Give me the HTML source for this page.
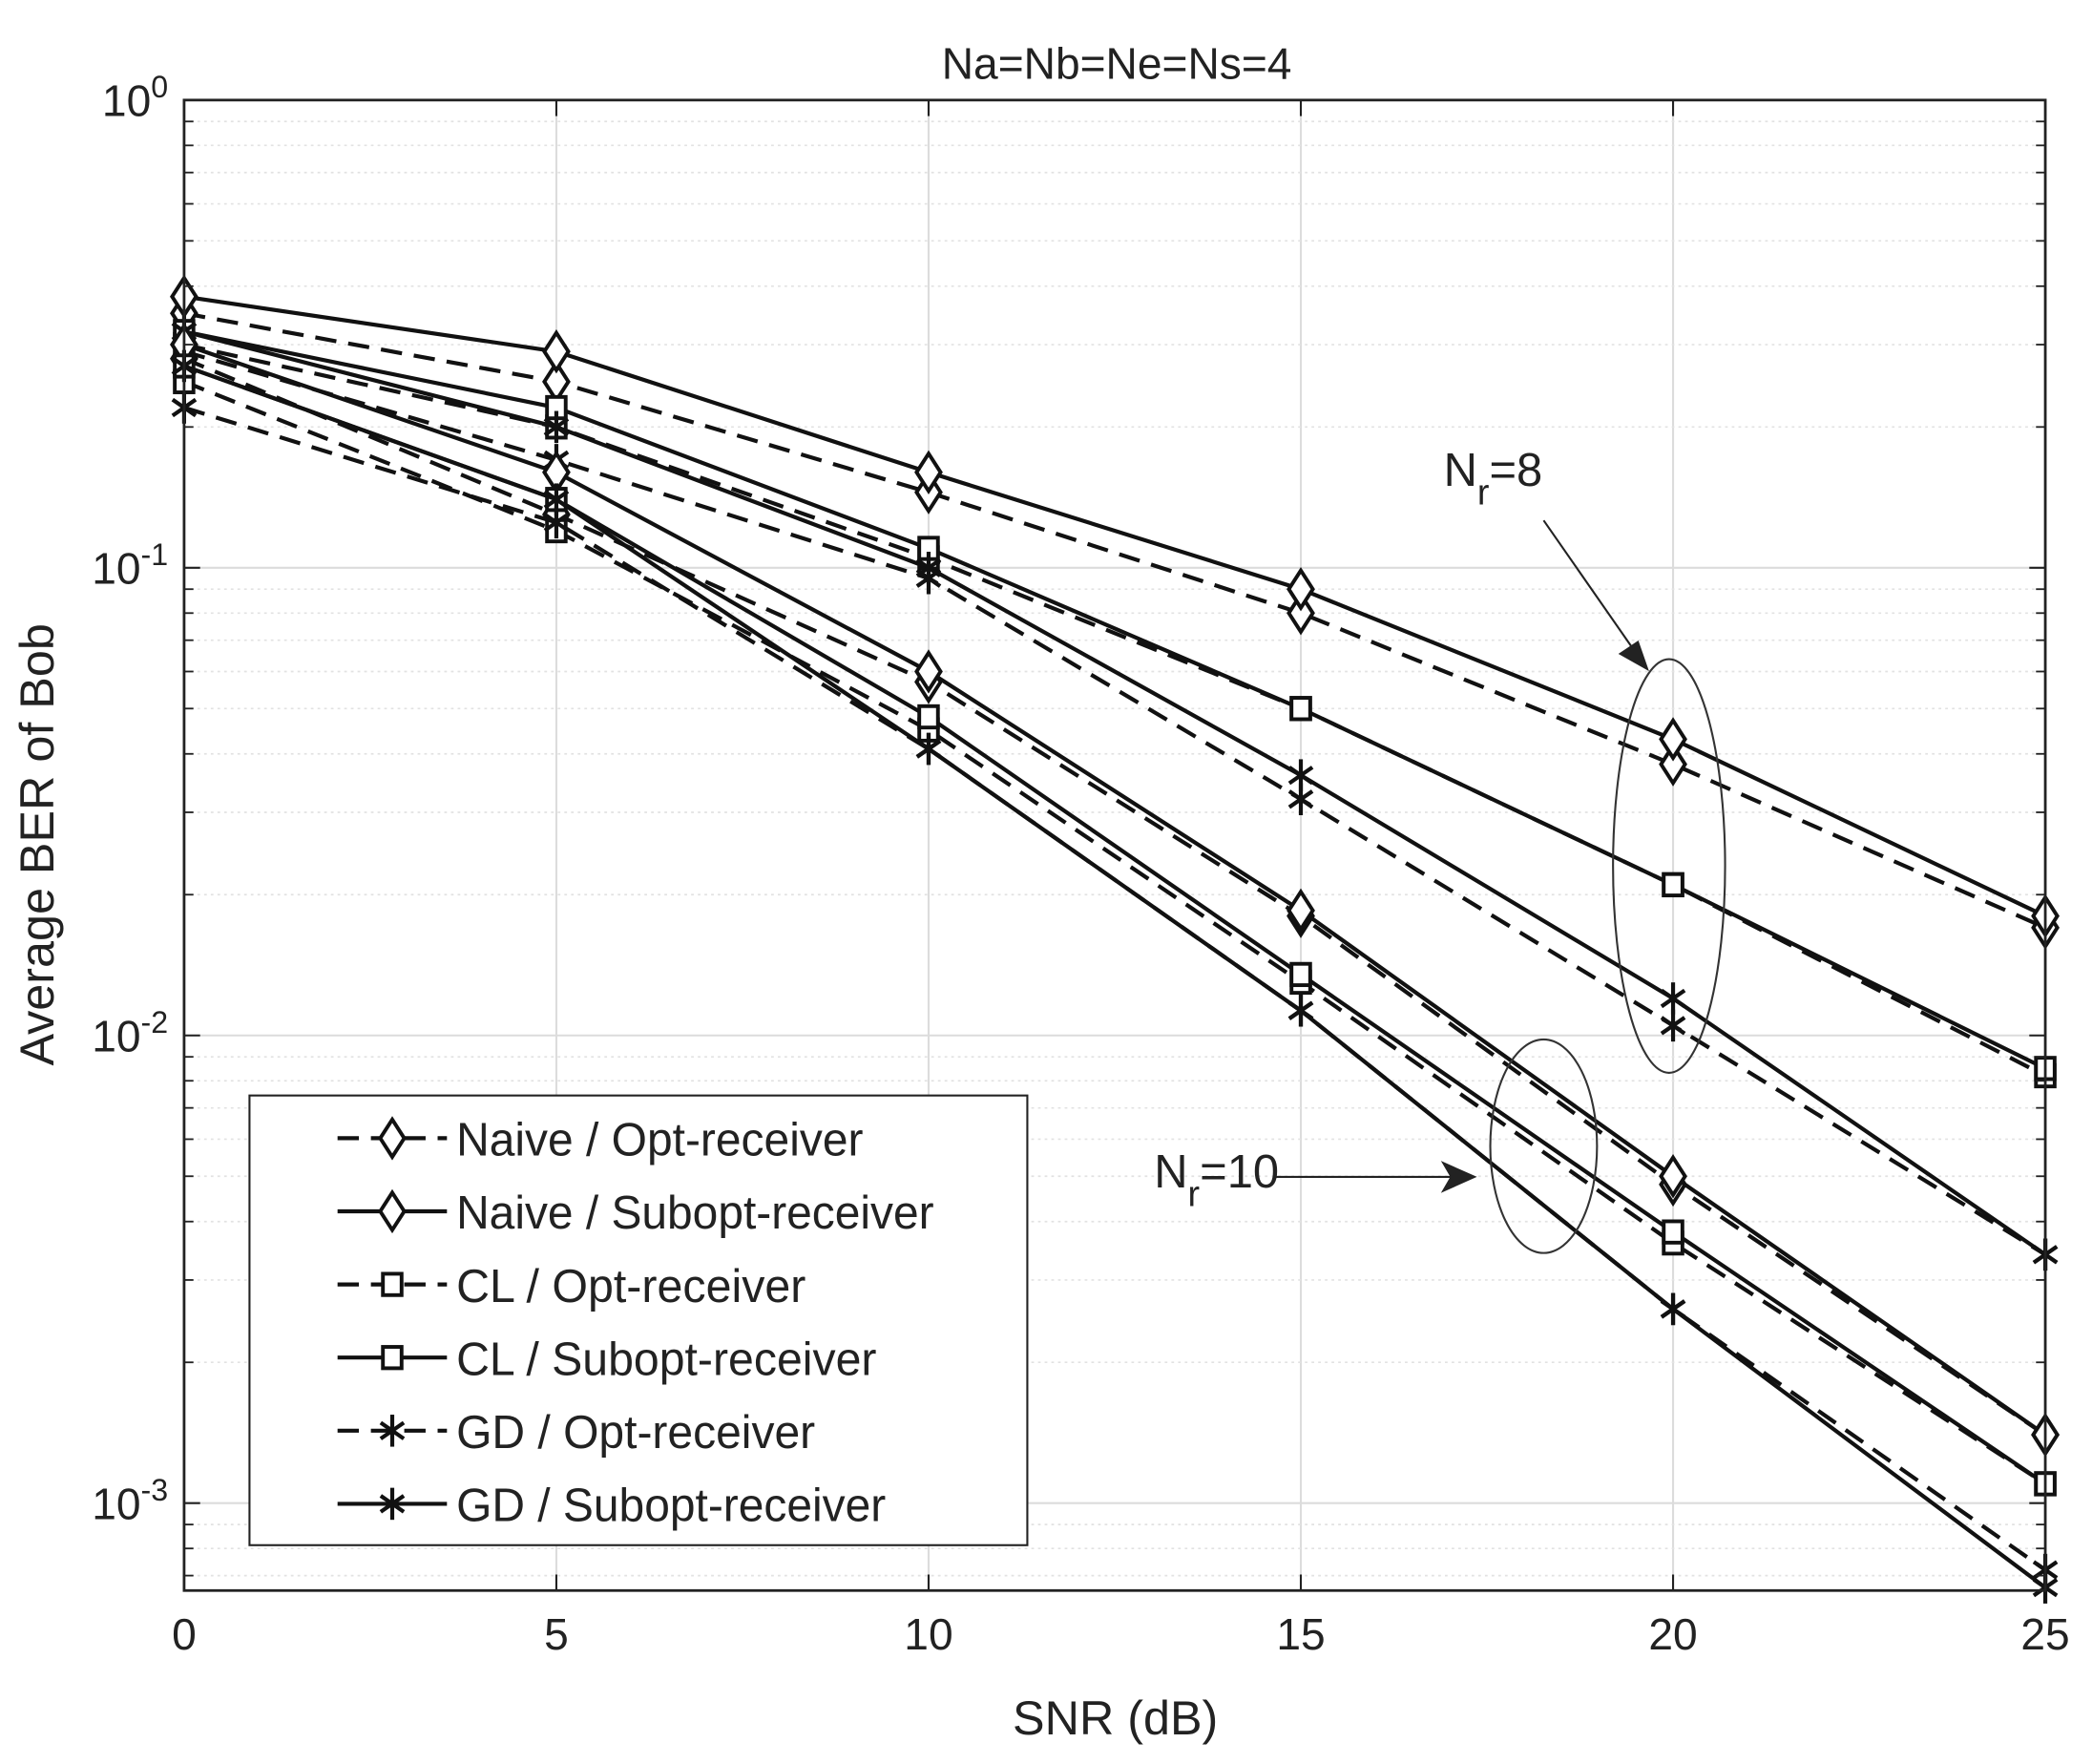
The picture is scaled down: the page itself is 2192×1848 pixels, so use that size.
<!DOCTYPE html>
<html><head><meta charset="utf-8"><style>
html,body{margin:0;padding:0;background:#fff;}
svg{display:block;font-family:"Liberation Sans",sans-serif;}
</style></head><body>
<svg id="chart" width="2192" height="1848" viewBox="0 0 1568 1322" preserveAspectRatio="none" xmlns="http://www.w3.org/2000/svg">
<rect x="0" y="0" width="1568" height="1322" fill="#fff"/>
<g id="grid"></g>
<g id="series"></g>
<g id="axes"></g>
<text x="837" y="59" font-size="33" text-anchor="middle" fill="#222">Na=Nb=Ne=Ns=4</text>
<text x="836" y="1300" font-size="36" text-anchor="middle" fill="#222">SNR (dB)</text>
<text transform="translate(40,633) rotate(-90)" font-size="36" text-anchor="middle" fill="#222">Average BER of Bob</text>
<g>
<ellipse cx="1251" cy="649" rx="42" ry="155" fill="none" stroke="#333" stroke-width="1.5"/>
<line x1="1157" y1="390" x2="1228" y2="492" stroke="#222" stroke-width="1.5"/>
<polygon points="1236,503 1213,490 1228,480" fill="#222"/>
<text x="1082" y="364" font-size="35" fill="#222">N<tspan dy="14" font-size="27">r</tspan><tspan dy="-14">=8</tspan></text>
</g>
<g>
<ellipse cx="1157" cy="859" rx="40" ry="80" fill="none" stroke="#333" stroke-width="1.5"/>
<line x1="955" y1="882" x2="1095" y2="882" stroke="#222" stroke-width="1.5"/>
<polygon points="1107,882 1080,870 1087,882 1080,894" fill="#222"/>
<text x="865" y="890" font-size="35" fill="#222">N<tspan dy="14" font-size="27">r</tspan><tspan dy="-14">=10</tspan></text>
</g>
<g id="legend"></g>
</svg>
<script>
const NS='http://www.w3.org/2000/svg';
const snr=[0,5,10,15,20,25];
const xTicks=[0,5,10,15,20,25];
const yDecades=[0,-1,-2,-3];
const naiveOpt8=[0.35,0.25,0.145,0.08,0.038,0.017];
const naiveSub8=[0.38,0.29,0.16,0.09,0.043,0.018];
const clOpt8=[0.30,0.20,0.105,0.05,0.021,0.0082];
const clSub8=[0.32,0.22,0.11,0.05,0.021,0.0085];
const gdOpt8=[0.29,0.17,0.095,0.032,0.0105,0.0034];
const gdSub8=[0.32,0.20,0.10,0.036,0.012,0.0034];
const naiveOpt10=[0.28,0.13,0.057,0.018,0.0048,0.0014];
const naiveSub10=[0.30,0.16,0.060,0.0185,0.005,0.0014];
const clOpt10=[0.25,0.12,0.045,0.013,0.0036,0.0011];
const clSub10=[0.27,0.14,0.048,0.0135,0.0038,0.0011];
const gdOpt10=[0.22,0.125,0.041,0.0113,0.0026,0.00072];
const gdSub10=[0.27,0.14,0.041,0.0113,0.0026,0.00066];
const legendLabels=['Naive / Opt-receiver','Naive / Subopt-receiver','CL / Opt-receiver','CL / Subopt-receiver','GD / Opt-receiver','GD / Subopt-receiver'];

const L=138,R=1533,T=75,B=1192,DEC=350.5;
const X=v=>L+(v-0)/(25-0)*(R-L);
const Y=v=>T-Math.log10(v)*DEC;
function el(tag,attrs,parent){const e=document.createElementNS(NS,tag);for(const k in attrs)e.setAttribute(k,attrs[k]);parent.appendChild(e);return e;}
const grid=document.getElementById('grid'),axes=document.getElementById('axes'),ser=document.getElementById('series'),leg=document.getElementById('legend');
for(const t of xTicks){const g=el('line',{x1:X(t),x2:X(t),y1:T,y2:B,stroke:'#dcdcdc','stroke-width':1.5},grid);

}
for(let d=0;d>=-4;d--){for(let m=1;m<=9;m++){const v=m*Math.pow(10,d);const yy=Y(v);if(yy<T-0.5||yy>B+0.5)continue;
const g=el('line',{x1:L,x2:R,y1:yy,y2:yy,stroke:m==1?'#dcdcdc':'#e2e2e2','stroke-width':m==1?1.5:1.2,'stroke-dasharray':m==1?'':'2,3'},grid);


if(m>1){el('line',{x1:L,x2:L+7,y1:yy,y2:yy,stroke:'#222','stroke-width':1.3},axes);el('line',{x1:R,x2:R-7,y1:yy,y2:yy,stroke:'#222','stroke-width':1.3},axes);}}}
const fr=el('rect',{x:L,y:T,width:R-L,height:B-T,fill:'none',stroke:'#222','stroke-width':2},axes);


for(const t of xTicks){el('line',{x1:X(t),x2:X(t),y1:B,y2:B-12,stroke:'#222','stroke-width':1.5},axes);el('line',{x1:X(t),x2:X(t),y1:T,y2:T+12,stroke:'#222','stroke-width':1.5},axes);
const tx=el('text',{x:X(t),y:B+44,'font-size':33,'text-anchor':'middle',fill:'#222'},axes);tx.textContent=t;

}
for(const d of yDecades){const yy=Y(Math.pow(10,d));el('line',{x1:L,x2:L+12,y1:yy,y2:yy,stroke:'#222','stroke-width':1.5},axes);el('line',{x1:R,x2:R-12,y1:yy,y2:yy,stroke:'#222','stroke-width':1.5},axes);
const tx=el('text',{x:L-12,y:yy+12,'font-size':33,'text-anchor':'end',fill:'#222'},axes);tx.textContent='10';
const sp=el('tspan',{dy:-14,'font-size':23},tx);sp.textContent=String(d);

}
function marker(type,x,y,p){
if(type=='d'){el('polygon',{points:`${x},${y-14} ${x+9},${y} ${x},${y+14} ${x-9},${y}`,fill:'#fff',stroke:'#111','stroke-width':2.8},p);}
else if(type=='s'){el('rect',{x:x-7,y:y-8,width:14,height:16,fill:'#fff',stroke:'#111','stroke-width':2.8},p);}
else{for(const a of [0,60,120]){const r=a*Math.PI/180;el('line',{x1:x-10*Math.sin(r),y1:y-12*Math.cos(r),x2:x+10*Math.sin(r),y2:y+12*Math.cos(r),stroke:'#111','stroke-width':3},p);}}}
const defs=[
['naive-opt-nr8',naiveOpt8,'d',true],['naive-subopt-nr8',naiveSub8,'d',false],
['cl-opt-nr8',clOpt8,'s',true],['cl-subopt-nr8',clSub8,'s',false],
['gd-opt-nr8',gdOpt8,'*',true],['gd-subopt-nr8',gdSub8,'*',false],
['naive-opt-nr10',naiveOpt10,'d',true],['naive-subopt-nr10',naiveSub10,'d',false],
['cl-opt-nr10',clOpt10,'s',true],['cl-subopt-nr10',clSub10,'s',false],
['gd-opt-nr10',gdOpt10,'*',true],['gd-subopt-nr10',gdSub10,'*',false]];
for(const [name,vals,mk,dash] of defs){
const g=el('g',{},ser);


const pts=vals.map((v,i)=>X(snr[i])+','+Y(v)).join(' ');
el('polyline',{points:pts,fill:'none',stroke:'#111','stroke-width':3,'stroke-dasharray':dash?'16,9':''},g);
vals.forEach((v,i)=>marker(mk,X(snr[i]),Y(v),g));}
const lb=el('rect',{x:187,y:821,width:583,height:337,fill:'#fff',stroke:'#222','stroke-width':1.5},leg);


const lm=['d','d','s','s','*','*'];
const lw=[305,358,262,315,269,322];
legendLabels.forEach((lab,i)=>{const yy=853+i*54.8;const g=el('g',{},leg);


el('line',{x1:253,x2:335,y1:yy,y2:yy,stroke:'#111','stroke-width':3,'stroke-dasharray':i%2==0?'16,9':''},g);
marker(lm[i],294,yy,g);
const t=el('text',{x:342,y:yy+13,'font-size':35,fill:'#222',textLength:lw[i],lengthAdjust:'spacingAndGlyphs'},g);t.textContent=lab;});
</script>
</body></html>
